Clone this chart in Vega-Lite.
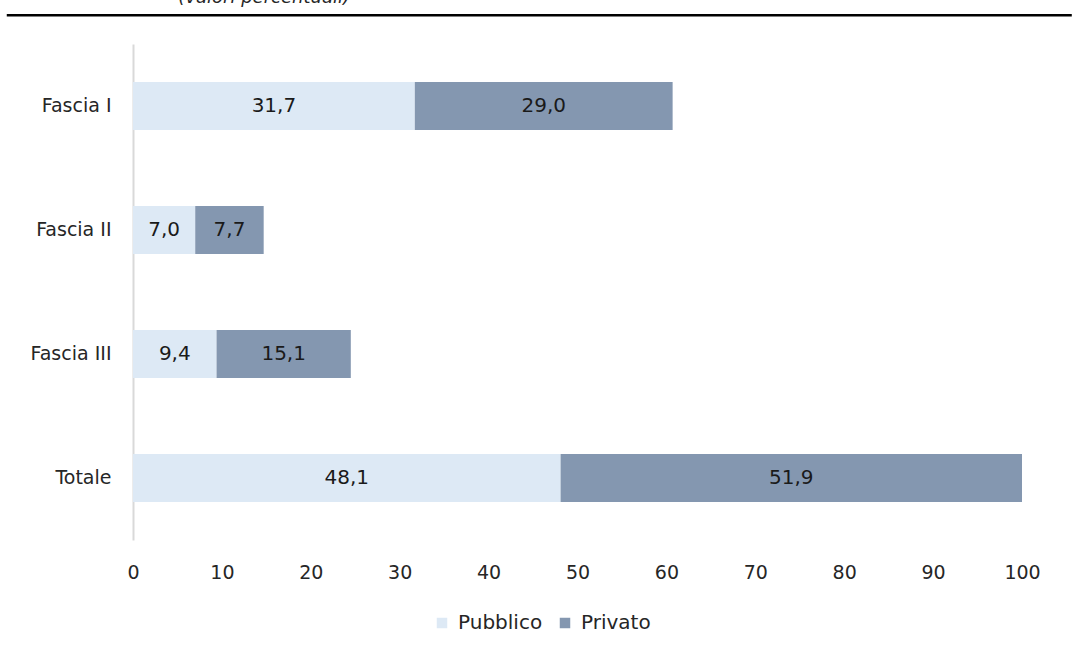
{
  "$schema": "https://vega.github.io/schema/vega-lite/v6.json",
  "autosize": "none",
  "width": 889,
  "height": 496,
  "padding": {"left": 133, "top": 44, "right": 50, "bottom": 115},
  "background": "white",
  "data": {
    "values": [
      {"fascia": "Fascia I", "settore": "Pubblico", "ord": 1, "valore": 31.7, "label": "31,7"},
      {"fascia": "Fascia I", "settore": "Privato", "ord": 2, "valore": 29.0, "label": "29,0"},
      {"fascia": "Fascia II", "settore": "Pubblico", "ord": 1, "valore": 7.0, "label": "7,0"},
      {"fascia": "Fascia II", "settore": "Privato", "ord": 2, "valore": 7.7, "label": "7,7"},
      {"fascia": "Fascia III", "settore": "Pubblico", "ord": 1, "valore": 9.4, "label": "9,4"},
      {"fascia": "Fascia III", "settore": "Privato", "ord": 2, "valore": 15.1, "label": "15,1"},
      {"fascia": "Totale", "settore": "Pubblico", "ord": 1, "valore": 48.1, "label": "48,1"},
      {"fascia": "Totale", "settore": "Privato", "ord": 2, "valore": 51.9, "label": "51,9"}
    ]
  },
  "layer": [
    {
      "layer": [
        {
          "mark": {"type": "bar"},
          "encoding": {
            "y": {
              "field": "fascia",
              "type": "nominal",
              "sort": ["Fascia I", "Fascia II", "Fascia III", "Totale"],
              "scale": {"paddingInner": 0.613, "paddingOuter": 0.3065},
              "axis": {
                "title": null,
                "ticks": false,
                "domainColor": "#d9d9d9",
                "domainWidth": 2,
                "labelPadding": 22,
                "labelFont": "DejaVu Sans",
                "labelFontSize": 19,
                "labelColor": "#262626"
              }
            },
            "x": {
              "field": "valore",
              "type": "quantitative",
              "stack": "zero",
              "scale": {"domain": [0, 100], "nice": false},
              "axis": {
                "title": null,
                "ticks": false,
                "domain": false,
                "grid": false,
                "labelFlush": false,
                "labelOverlap": false,
                "values": [0, 10, 20, 30, 40, 50, 60, 70, 80, 90, 100],
                "labelPadding": 23,
                "labelFont": "DejaVu Sans",
                "labelFontSize": 19,
                "labelColor": "#262626"
              }
            },
            "color": {
              "field": "settore",
              "type": "nominal",
              "scale": {"domain": ["Pubblico", "Privato"], "range": ["#dde9f5", "#8497b0"]},
              "legend": {
                "title": null,
                "orient": "none",
                "direction": "horizontal",
                "legendX": 299,
                "legendY": 569,
                "symbolType": "square",
                "symbolSize": 110,
                "symbolStrokeWidth": 0,
                "columnPadding": 12,
                "labelFont": "DejaVu Sans",
                "labelFontSize": 20,
                "labelColor": "#262626",
                "labelOffset": 6
              }
            },
            "order": {"field": "ord", "type": "quantitative"}
          }
        },
        {
          "mark": {"type": "text", "font": "DejaVu Sans", "fontSize": 20, "color": "#1a1a1a", "baseline": "middle"},
          "encoding": {
            "y": {"field": "fascia", "type": "nominal", "sort": ["Fascia I", "Fascia II", "Fascia III", "Totale"]},
            "x": {"field": "valore", "type": "quantitative", "stack": "zero", "bandPosition": 0.5},
            "detail": {"field": "settore"},
            "order": {"field": "ord", "type": "quantitative"},
            "text": {"field": "label"}
          }
        }
      ]
    },
    {
      "data": {"values": [{"x0": -14.2, "x1": 105.6, "yy": 1.058, "tx": 5.1, "titolo": "(valori percentuali)"}]},
      "encoding": {
        "y": {"field": "yy", "type": "quantitative", "scale": {"domain": [0, 1], "nice": false}, "axis": null}
      },
      "layer": [
        {
          "mark": {"type": "rule", "color": "#000000", "strokeWidth": 2.5, "clip": false},
          "encoding": {
            "x": {"field": "x0", "type": "quantitative"},
            "x2": {"field": "x1"}
          }
        },
        {
          "mark": {"type": "text", "font": "DejaVu Sans", "fontStyle": "italic", "fontSize": 18, "color": "#262626", "align": "left", "baseline": "alphabetic", "dy": -12, "clip": false},
          "encoding": {
            "x": {"field": "tx", "type": "quantitative"},
            "text": {"field": "titolo"}
          }
        }
      ]
    }
  ],
  "resolve": {"scale": {"y": "independent"}, "axis": {"y": "independent"}},
  "config": {"view": {"stroke": null}}
}
